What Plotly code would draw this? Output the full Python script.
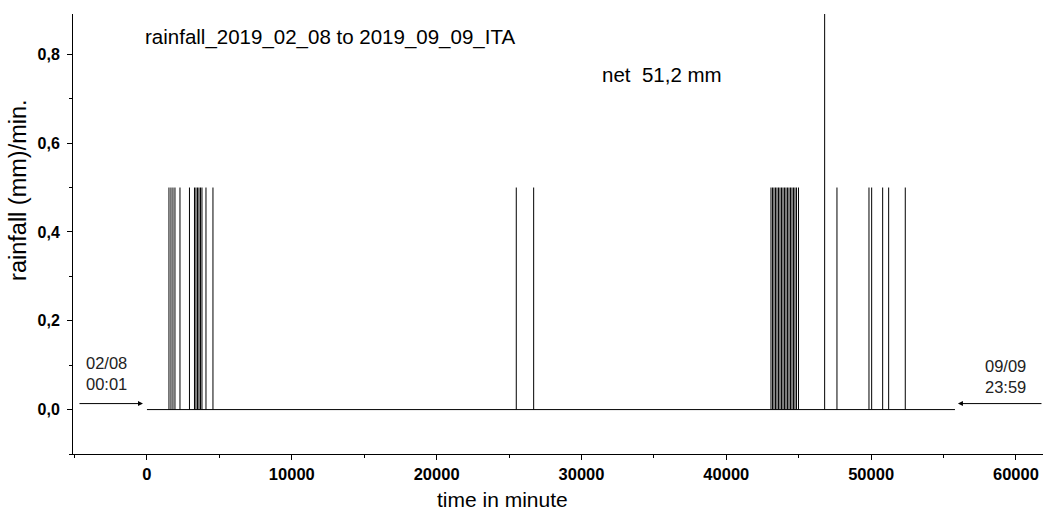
import plotly.graph_objects as go

# rain event times (minutes since 2019-02-08 00:01) and intensities (mm/min)
event_minutes = [1519, 1657, 1795, 1933, 2279, 2934, 3280, 3383, 3487, 3590, 3694, 3797, 4074, 4557,
                 25500, 26700,
                 43085, 43189, 43292, 43396, 43499, 43603, 43707, 43810, 43914, 44017, 44121, 44224,
                 44328, 44431, 44535, 44638, 44742, 44846, 44984,
                 46792, 47642, 49852, 50038, 50798, 51212, 52358]
event_values = [0.5] * 35 + [1.0] + [0.5] * 6

series_start = 0
series_end = 55790

x_ticks = [0, 10000, 20000, 30000, 40000, 50000, 60000]
y_ticks = [0.0, 0.2, 0.4, 0.6, 0.8]

FONT = "Liberation Sans, Arial, sans-serif"

xs, ys = [], []
for t, v in zip(event_minutes, event_values):
    xs += [t, t, None]
    ys += [0, v, None]

fig = go.Figure()
fig.add_trace(go.Scatter(x=[series_start, series_end], y=[0, 0], mode="lines",
                         line=dict(color="black", width=1), hoverinfo="skip", showlegend=False))
fig.add_trace(go.Scatter(x=xs, y=ys, mode="lines", line=dict(color="black", width=1),
                         connectgaps=False, showlegend=False))

annotations = [
    dict(x=-250, y=0.839, xref="x", yref="y", text="rainfall_2019_02_08 to 2019_09_09_ITA",
         showarrow=False, xanchor="left", yanchor="middle", font=dict(size=20.5, family=FONT, color="black")),
    dict(x=31300, y=0.7535, xref="x", yref="y", text="net\u00a0 51,2 mm",
         showarrow=False, xanchor="left", yanchor="middle", font=dict(size=20.5, family=FONT, color="black")),
    dict(x=-4350, y=0.081, xref="x", yref="y", text="02/08<br>00:01", align="left",
         showarrow=False, xanchor="left", yanchor="middle", font=dict(size=16.5, family=FONT, color="#222")),
    dict(x=60800, y=0.074, xref="x", yref="y", text="09/09<br>23:59", align="right",
         showarrow=False, xanchor="right", yanchor="middle", font=dict(size=16.5, family=FONT, color="#222")),
    dict(x=-276, y=0.0135, ax=-4764, ay=0.0135, xref="x", yref="y", axref="x", ayref="y",
         text="", showarrow=True, arrowhead=2, arrowsize=1, arrowwidth=1, arrowcolor="black"),
    dict(x=55996, y=0.0135, ax=61866, ay=0.0135, xref="x", yref="y", axref="x", ayref="y",
         text="", showarrow=True, arrowhead=2, arrowsize=1, arrowwidth=1, arrowcolor="black"),
    # axis titles
    dict(x=0.443, y=-0.1045, xref="paper", yref="paper", text="time in minute",
         showarrow=False, xanchor="center", yanchor="middle", font=dict(size=21, family=FONT, color="black")),
    dict(x=-0.0567, y=0.598, xref="paper", yref="paper", text="rainfall (mm)/min.", textangle=-90,
         showarrow=False, xanchor="center", yanchor="middle", font=dict(size=23.5, family=FONT, color="black")),
]

fig.update_layout(
    width=1043, height=510,
    margin=dict(l=73, r=0, t=14, b=56),
    plot_bgcolor="white", paper_bgcolor="white",
    separators=",.",
    annotations=annotations,
    showlegend=False,
    font=dict(family=FONT, color="black"),
)
fig.update_xaxes(
    range=[-5107, 61868], showgrid=False, zeroline=False, automargin=False,
    showline=True, linecolor="black", linewidth=1,
    ticks="outside", ticklen=5, tickcolor="black",
    tickvals=x_ticks, ticktext=["<b>%d</b>" % v for v in x_ticks],
    tickfont=dict(size=16.5, family=FONT, color="black"),
    minor=dict(ticks="outside", ticklen=3, dtick=5000, tick0=0, tickcolor="black"),
)
fig.update_yaxes(
    range=[-0.1, 0.8907], showgrid=False, zeroline=False, automargin=False,
    showline=True, linecolor="black", linewidth=1,
    ticks="outside", ticklen=5, tickcolor="black", ticklabelstandoff=4,
    tickvals=y_ticks, ticktext=["<b>%s</b>" % ("%.1f" % v).replace(".", ",") for v in y_ticks],
    tickfont=dict(size=16, family=FONT, color="black"),
    minor=dict(ticks="outside", ticklen=3, dtick=0.1, tick0=0, tickcolor="black"),
)

fig.write_html("out.html", config={"displayModeBar": False},
               post_script="document.body.style.margin='0';")
